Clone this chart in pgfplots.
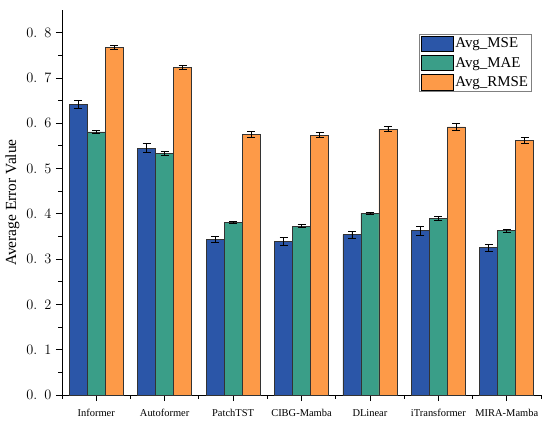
\documentclass[border=0pt]{standalone}
\usepackage{pgfplots}
\pgfplotsset{compat=1.18}
\usepackage{pgfplotstable}
\usepackage{fontspec}
\setmainfont{Liberation Serif}
\definecolor{cblue}{HTML}{2B56A8}
\definecolor{cgreen}{HTML}{3A9E88}
\definecolor{corange}{HTML}{FD9A48}
\definecolor{cedge}{HTML}{333333}
\pgfplotstableread{
x mse mseerr mae maeerr rmse rmseerr
0 0.641 0.009 0.581 0.003 0.768 0.004
1 0.545 0.010 0.533 0.004 0.723 0.005
2 0.344 0.007 0.381 0.003 0.575 0.006
3 0.339 0.008 0.373 0.003 0.574 0.006
4 0.354 0.008 0.401 0.003 0.587 0.006
5 0.363 0.010 0.390 0.004 0.592 0.007
6 0.325 0.008 0.363 0.003 0.562 0.006
}\datatable
\begin{document}
\begin{tikzpicture}
\begin{axis}[
  name=ax,
  scale only axis,
  width=479bp, height=385bp,
  xmin=-0.5, xmax=6.5,
  ymin=0, ymax=0.85,
  axis x line*=bottom, axis y line*=left,
  axis line style={black, line width=0.8pt},
  ybar=0pt, bar width=18bp,
  xtick={0,...,6},
  xticklabels={Informer,Autoformer,PatchTST,CIBG-Mamba,DLinear,iTransformer,MIRA-Mamba},
  minor xtick={-0.5,0.5,...,6.5},
  x tick label style={font=\fontsize{10.5}{12}\selectfont, yshift=-5bp},
  ytick={0,0.1,...,0.8},
  yticklabels={$0.\mkern9mu 0$,$0.\mkern9mu 1$,$0.\mkern9mu 2$,$0.\mkern9mu 3$,$0.\mkern9mu 4$,$0.\mkern9mu 5$,$0.\mkern9mu 6$,$0.\mkern9mu 7$,$0.\mkern9mu 8$},
  minor y tick num=1,
  y tick label style={font=\fontsize{15.5}{17}\selectfont, xshift=-1bp},
  tick align=outside,
  major tick length=6bp, minor tick length=3.5bp,
  tick style={black, line width=0.8pt},
  ylabel={Average Error Value},
  ylabel style={font=\fontsize{15.5}{17}\selectfont},
  legend style={at={(rel axis cs:0.981,0.938)}, anchor=north east,
    draw=gray, line width=0.6pt, font=\fontsize{15}{17}\selectfont,
    inner sep=1.5bp, row sep=3bp},
  legend cell align=left,
  legend image code/.code={\draw[#1, draw=black] (0bp,-7.8bp) rectangle (32bp,7.8bp);},
  clip=false,
]
\addplot[fill=cblue, draw=cedge, line width=0.6pt,
  error bars/.cd, y dir=both, y explicit,
  error bar style={black, line width=0.7pt}, error mark options={rotate=90, mark size=4bp, black, line width=0.7pt}]
  table[x=x, y=mse, y error=mseerr]{\datatable};
\addplot[fill=cgreen, draw=cedge, line width=0.6pt,
  error bars/.cd, y dir=both, y explicit,
  error bar style={black, line width=0.7pt}, error mark options={rotate=90, mark size=4bp, black, line width=0.7pt}]
  table[x=x, y=mae, y error=maeerr]{\datatable};
\addplot[fill=corange, draw=cedge, line width=0.6pt,
  error bars/.cd, y dir=both, y explicit,
  error bar style={black, line width=0.7pt}, error mark options={rotate=90, mark size=4bp, black, line width=0.7pt}]
  table[x=x, y=rmse, y error=rmseerr]{\datatable};
\legend{Avg\_MSE, Avg\_MAE, Avg\_RMSE}
\end{axis}
\path[use as bounding box] ([shift={(-62bp,-30bp)}]ax.south west) rectangle ([shift={(9bp,10bp)}]ax.north east);
\end{tikzpicture}
\end{document}
